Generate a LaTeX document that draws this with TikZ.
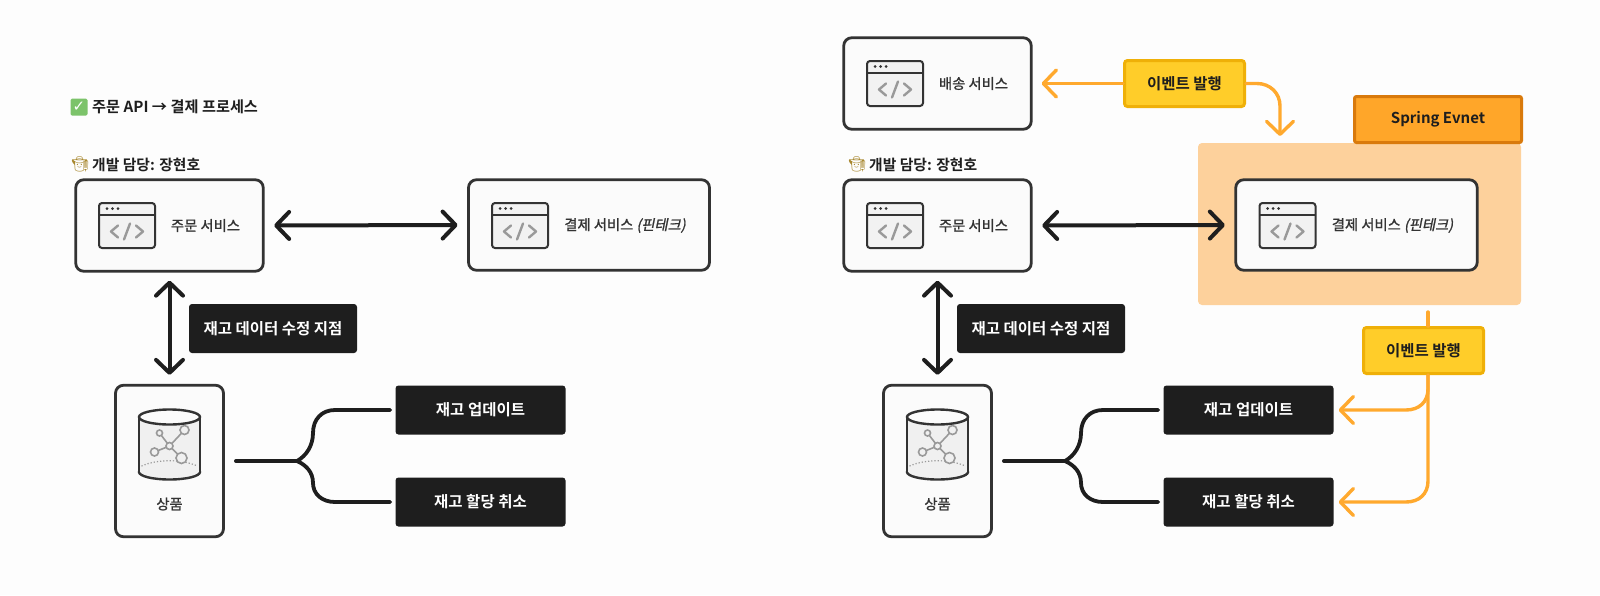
\documentclass[tikz,border=0pt]{standalone}
\usepackage{fontspec}
\usetikzlibrary{arrows.meta,calc}
\setmainfont{Noto Sans CJK KR}
\newfontfamily\bodyf[FakeBold=1.2]{Noto Sans CJK KR}
\newfontfamily\slantf[FakeBold=1.2,FakeSlant=0.2]{Noto Sans CJK KR}
\newfontfamily\boldf{Noto Sans CJK KR Bold}
\newfontfamily\emojif{Noto Emoji}
\newfontfamily\dejaf{DejaVu Sans Bold}
\definecolor{ink}{HTML}{1E1E1E}
\definecolor{edge}{HTML}{333333}
\definecolor{paper}{HTML}{FDFDFD}
\definecolor{panel}{HTML}{FBFBFB}
\definecolor{grayico}{HTML}{999999}
\definecolor{orangeline}{HTML}{FFA92E}
\definecolor{yellowfill}{HTML}{FFCD29}
\definecolor{yellowedge}{HTML}{EFB008}
\definecolor{springfill}{HTML}{FFA629}
\definecolor{springedge}{HTML}{D97A0C}
\definecolor{areafill}{HTML}{FDD19C}
\definecolor{okgreen}{HTML}{7CC36A}
\definecolor{farmer}{HTML}{A8882F}
\tikzset{
 x=1pt,y=-1pt,
 svcbox/.style={draw=edge,line width=2.8pt,fill=panel,rounded corners=8pt,inner sep=0pt,minimum width=#1},
 svcbox/.default=187.5pt,
 labelbox/.style={fill=ink,rounded corners=3pt,text=white,inner sep=0pt,minimum height=49pt,font=\boldf\fontsize{15.5}{18}\selectfont},
 eventbox/.style={fill=yellowfill,draw=yellowedge,line width=3pt,rounded corners=3pt,inner sep=0pt,minimum width=120pt,minimum height=46pt,text=ink,font=\boldf\fontsize{15.5}{18}\selectfont},
 bodytext/.style={text=edge,inner sep=0pt,font=\bodyf\fontsize{14.3}{17}\selectfont},
 headtext/.style={text=ink,inner sep=0pt,anchor=west,font=\boldf\fontsize{15.2}{18}\selectfont},
 devtext/.style={text=ink,inner sep=0pt,anchor=west,font=\boldf\fontsize{14.8}{18}\selectfont},
 darkarrow/.style={draw=ink,line width=4pt,line cap=round,{Straight Barb[length=13pt,width=27pt,round]}-{Straight Barb[length=13pt,width=27pt,round]}},
 darkline/.style={draw=ink,line width=3.8pt,line cap=round},
 orangearrow/.style={draw=orangeline,line width=3.4pt,line cap=round,-{Straight Barb[length=13pt,width=27pt,round]}},
 orangestem/.style={draw=orangeline,line width=3.4pt,line cap=round},
 browser/.pic={
  \draw[edge,line width=2pt,fill=black!5,rounded corners=3pt] (-28,-22.5) rectangle (28,22.5);
  \draw[edge,line width=2pt] (-28,-11) -- (28,-11);
  \fill[edge] (-20,-17) circle[radius=1.5pt] (-14.5,-17) circle[radius=1.5pt] (-9,-17) circle[radius=1.5pt];
  \draw[grayico,line width=2.4pt,line cap=round,line join=round] (-9,0) -- (-16,6) -- (-9,12) (9,0) -- (16,6) -- (9,12) (3,-2) -- (-3,14);
 },
 cylinder/.pic={
  \draw[edge,line width=2.4pt,fill=black!6] (0,55) ellipse[x radius=30.5pt,y radius=7.5pt];
  \fill[black!6] (-30.5,0) rectangle (30.5,55);
  \draw[edge,line width=2.4pt] (-30.5,0) -- (-30.5,55) (30.5,0) -- (30.5,55);
  \draw[grayico,line width=1.2pt,dotted] (-28,49) .. controls (-12,42) and (12,42) .. (28,49);
  \draw[grayico,line width=1.6pt] (-10,16) -- (0,29) -- (15,13) (-15,35) -- (0,29) -- (12,41);
  \draw[grayico,line width=1.6pt,fill=black!6] (-10,16) circle[radius=3pt] (15,13) circle[radius=4.5pt] (-15,35) circle[radius=4pt] (12,41) circle[radius=5.5pt] (0,29) circle[radius=3.5pt];
  \draw[edge,line width=2.4pt,fill=panel] (0,0) ellipse[x radius=30.5pt,y radius=7.5pt];
 },
}
\newcommand{\commonpart}[2]{%
 \node[devtext] (#1-devicon) at ({70.5+#2},164.5) {\fontsize{15}{18}\selectfont\emojif\textcolor{farmer}{🧑‍🌾}};
 \node[devtext] (#1-dev) at ({92+#2},164.5) {개발 담당: 장현호};
 \node[svcbox,minimum height=91.5pt] (#1-order) at (169.5,225.5) {};
 \pic at (127,225.5) {browser};
 \node[bodytext] (#1-ordertext) at (205.5,225.5) {주문 서비스};
 \node[svcbox=108pt,minimum height=151.5pt] (#1-db) at (169.5,461) {};
 \pic at (169.5,417) {cylinder};
 \node[bodytext] (#1-dbtext) at (169.5,504) {상품};
 \node[labelbox,minimum width=168pt] (#1-point) at (273,328.5) {재고 데이터 수정 지점};
 \node[labelbox,minimum width=170pt] (#1-up) at (480.5,410) {재고 업데이트};
 \node[labelbox,minimum width=170pt] (#1-cancel) at (480.5,502) {재고 할당 취소};
 \coordinate (#1-fork) at (297,461);
 \draw[darkarrow,shorten <=8pt,shorten >=9pt] (#1-order.south) -- (#1-db.north);
 \draw[darkline,shorten <=11pt] (#1-db.east) -- (#1-fork);
 \draw[darkline,shorten >=5pt] (#1-fork) .. controls (306,456) and (313,446) .. (313,433) .. controls (313,419) and (322,410) .. (335,410) -- (#1-up.west);
 \draw[darkline,shorten >=5pt] (#1-fork) .. controls (306,465) and (313,472) .. (313,483) .. controls (313,494) and (322,502) .. (335,502) -- (#1-cancel.west);
}
\begin{document}
\begin{tikzpicture}
\useasboundingbox[fill=paper] (0,0) rectangle (1600,595);
% left
\node[fill=okgreen,rounded corners=1.5pt,minimum size=17pt,inner sep=0pt,text=white,font=\dejaf\fontsize{15}{15}\selectfont] (checkmark) at (79,107) {✓};
\node[headtext] (title) at (92,106.5) {주문 API → 결제 프로세스};
\commonpart{a}{0}
\node[svcbox=241pt,minimum height=90.5pt] (a-pay) at (589,225) {};
\pic at (520,225.5) {browser};
\node[bodytext] (a-paytext) at (625,225.5) {결제 서비스 {\slantf(핀테크)}};
\draw[darkarrow,shorten <=9.5pt,shorten >=9.5pt] (a-order.east) -- (a-pay.west);
% right
\node[fill=areafill,rounded corners=4pt,inner sep=0pt,minimum width=323pt,minimum height=162pt] (area) at (1359.5,224) {};
\node[fill=springfill,draw=springedge,line width=3pt,rounded corners=2pt,inner sep=0pt,minimum width=167pt,minimum height=46pt,text=ink,font=\boldf\fontsize{15}{18}\selectfont] (spring) at (1438,119.5) {Spring Evnet};
\begin{scope}[xshift=768pt]
\commonpart{b}{9}
\end{scope}
\node[svcbox,minimum height=91.5pt] (b-ship) at (937.5,83.5) {};
\pic at (895,83.5) {browser};
\node[bodytext] (b-shiptext) at (973.5,83.5) {배송 서비스};
\node[svcbox=241.5pt,minimum height=90.5pt] (b-pay) at (1356.5,225) {};
\pic at (1287.5,225.5) {browser};
\node[bodytext] (b-paytext) at (1392.5,225.5) {결제 서비스 {\slantf(핀테크)}};
\draw[darkarrow,shorten <=9.5pt,shorten >=9.5pt] (b-order.east) -- (b-pay.west);
% events
\node[eventbox] (ev1) at (1184.5,83.5) {이벤트 발행};
\node[eventbox] (ev2) at (1423.5,350.5) {이벤트 발행};
\draw[orangearrow,shorten >=9pt] (ev1.west) -- (b-ship.east);
\coordinate (areain) at (1280,143);
\draw[orangearrow,shorten >=7pt] (ev1.east) -- (1257,83.5) .. controls (1270,83.5) and (1280,93) .. (1280,106) -- (areain);
\coordinate (areaout) at (1428,305);
\coordinate (stemtop) at (areaout |- ev2.north);
\coordinate (stemlow) at (areaout |- ev2.south);
\draw[orangestem,shorten <=7pt] (areaout) -- (stemtop);
\draw[orangearrow,shorten >=5pt] (stemlow) -- (1428,389) .. controls (1428,402) and (1419,410) .. (1406,410) -- (b-up.east);
\draw[orangearrow,shorten >=5pt] (stemlow) -- (1428,481) .. controls (1428,494) and (1419,502) .. (1406,502) -- (b-cancel.east);
\end{tikzpicture}
\end{document}
